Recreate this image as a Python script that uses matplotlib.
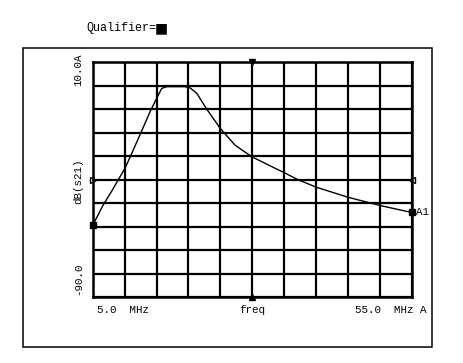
import numpy as np
import matplotlib.pyplot as plt
from matplotlib.patches import Rectangle

# trace
freq_mhz = [5.0, 6.6, 8.0, 10.1, 12.4, 14.0, 15.0, 15.8, 16.6, 18.0, 19.4, 20.2,
            21.3, 22.9, 25.0, 27.3, 29.9, 33.3, 35.0, 37.0, 40.0, 45.0, 50.0, 55.0]
s21_db = [-59.5, -51.0, -44.8, -35.0, -21.0, -11.0, -5.5, -1.2, -0.4, -0.4, -0.4, -0.8,
          -3.2, -10.1, -18.2, -25.3, -30.2, -34.8, -37.0, -39.8, -43.2, -47.5, -51.0, -54.0]

x_min, x_max = 5.0, 55.0
y_min, y_max = -90.0, 10.0
mono = ['Liberation Mono', 'DejaVu Sans Mono']

fig = plt.figure(figsize=(4.64, 3.63), dpi=100)
fig.patch.set_facecolor('white')

# outer box
fig.patches.append(Rectangle((0.049, 0.044), 0.882, 0.824, transform=fig.transFigure,
                             fill=False, edgecolor='black', linewidth=1.1))

ax = fig.add_axes([0.1998, 0.1818, 0.6875, 0.6468])
ax.plot(freq_mhz, s21_db, color='black', linewidth=1.0)
ax.plot([freq_mhz[0], freq_mhz[-1]], [s21_db[0], s21_db[-1]], 's', color='black',
        markersize=4, clip_on=False)

ax.set_xlim(x_min, x_max)
ax.set_ylim(y_min, y_max)
ax.set_xticks(np.arange(x_min, x_max + 0.1, 5))
ax.set_yticks(np.arange(y_min, y_max + 0.1, 10))
ax.tick_params(length=0, labelbottom=False, labelleft=False)
ax.grid(True, color='black', linewidth=1.6)
for sp in ax.spines.values():
    sp.set_linewidth(1.8)

# small reference markers on the frame
ax.plot(0.5, 1.0, 'v', color='black', markersize=5, transform=ax.transAxes, clip_on=False)
ax.plot(0.5, 0.0, '^', color='black', markersize=5, transform=ax.transAxes, clip_on=False)
ax.plot(0.0, 0.5, '>', mfc='white', mec='black', markersize=5, transform=ax.transAxes, clip_on=False)
ax.plot(1.0, 0.5, '<', mfc='white', mec='black', markersize=5, transform=ax.transAxes, clip_on=False)

ax.annotate('A1', (freq_mhz[-1], s21_db[-1]), xytext=(3, 0), textcoords='offset points',
            ha='left', va='center', family=mono, fontsize=7.8)

# header
fig.text(86 / 464, 1 - 28 / 363, 'Qualifier=', ha='left', va='center', family=mono, fontsize=8.5)
fig.text(155 / 464, 1 - 28 / 363, '\u25a0', ha='left', va='center', family=['DejaVu Sans'], fontsize=10)

# y axis labels
fig.text(78 / 464, 1 - 54 / 363, '10.0A', rotation=90, ha='center', va='top', family=mono, fontsize=7.8)
fig.text(78 / 464, 1 - 181 / 363, 'dB(s21)', rotation=90, ha='center', va='center', family=mono, fontsize=7.8)
fig.text(78 / 464, 1 - 295 / 363, '-90.0', rotation=90, ha='center', va='bottom', family=mono, fontsize=7.8)

# x axis labels
fig.text(97 / 464, 1 - 310 / 363, '5.0  MHz', ha='left', va='center', family=mono, fontsize=7.8)
fig.text(252 / 464, 1 - 310 / 363, 'freq', ha='center', va='center', family=mono, fontsize=7.8)
fig.text(355 / 464, 1 - 310 / 363, '55.0  MHz A', ha='left', va='center', family=mono, fontsize=7.8)

fig.savefig('out.png', dpi=100)
